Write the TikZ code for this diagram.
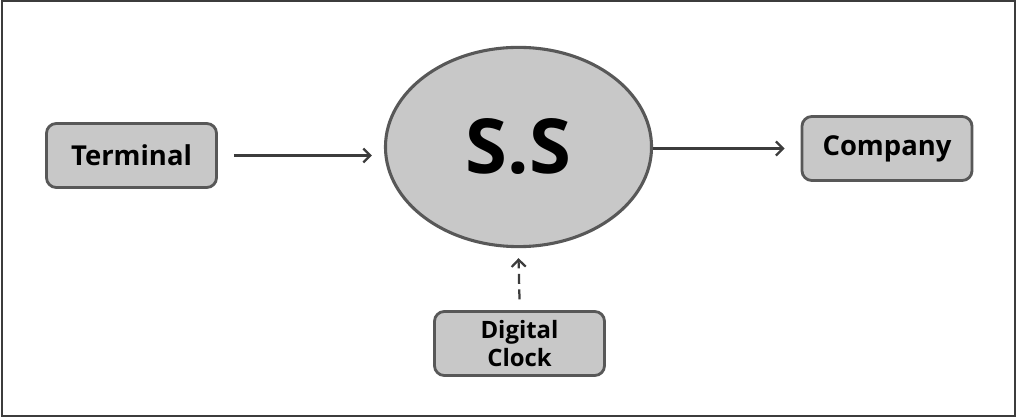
\documentclass[tikz,border=0pt]{standalone}
\usepackage{fontspec}
\setmainfont{Open Sans}
\usetikzlibrary{shapes.geometric,arrows.meta}

\definecolor{boxgray}{RGB}{200,200,200}
\definecolor{edgegray}{RGB}{88,88,88}
\definecolor{linegray}{RGB}{60,60,60}

\begin{document}
\begin{tikzpicture}[x=0.025cm, y=-0.025cm,
   entity/.style={rectangle, rounded corners=7pt, fill=boxgray, draw=edgegray,
     line width=2pt, minimum width=4.25cm, minimum height=1.6cm,
     font=\bfseries\fontsize{19.5}{21}\selectfont, align=center},
   flow/.style={-{Straight Barb[length=5pt,width=10pt]}, line width=1.6pt, draw=linegray}]

   \useasboundingbox (0,0) rectangle (1017,418);
   \draw[line width=1.5pt, draw=linegray] (2,1) rectangle (1015,416);

   % process and the external entities
   \node[ellipse, fill=boxgray, draw=edgegray, line width=2.2pt, inner sep=0pt,
     minimum width=6.65cm, minimum height=4.98cm,
     font=\bfseries\fontsize{54}{56}\selectfont] (ss) at (518.5,147) {S.S};
   \node[entity] (terminal) at (131.5,155.5) {Terminal};
   \node[entity] (company) at (887,148.5) {Company};
   \node[entity, font=\bfseries\fontsize{17}{20}\selectfont] (clock) at (519.5,343.5) {Digital\\Clock};

   \draw[flow] ([xshift=0.4cm]terminal.east) -- ([xshift=-0.3cm]ss.west |- terminal.east);
   \draw[flow] (ss.east |- company.west) -- ([xshift=-0.4cm]company.west);
   \draw[flow, dash pattern=on 7pt off 4pt] ([yshift=0.27cm]clock.north) -- ([yshift=-0.25cm]ss.south);

\end{tikzpicture}
\end{document}
